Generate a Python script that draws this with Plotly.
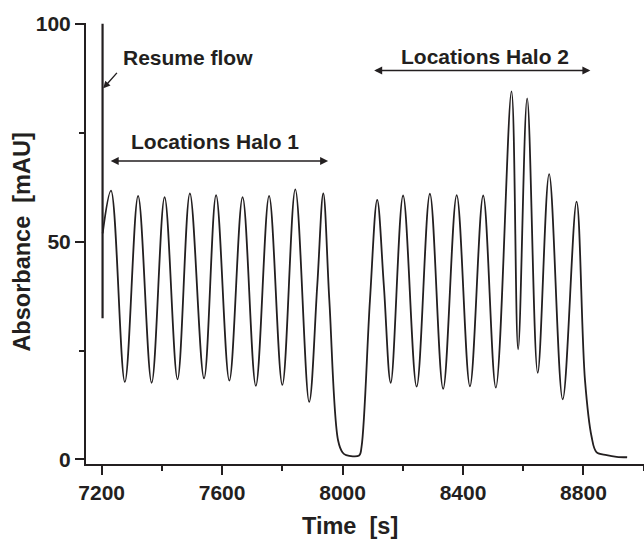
import plotly.graph_objects as go

# ---- data ----
spike_time = [7203.0, 7203.0]
spike_abs = [100.0, 32.4]

time_s = [7203.3, 7231, 7277, 7321, 7366, 7409, 7452, 7493, 7540, 7580, 7624, 7668,
          7712, 7756, 7800, 7843, 7889, 7916, 7936, 7956, 7985, 8000, 8012, 8055,
          8063, 8091, 8115, 8137, 8160, 8201, 8246, 8290, 8334, 8379, 8423, 8467,
          8509, 8561, 8583, 8613, 8648, 8686, 8731, 8777, 8805, 8827, 8843, 8877,
          8910, 8945]
absorbance_mau = [51.9, 61.7, 17.8, 60.5, 17.6, 60.2, 18.4, 61.1, 18.6, 60.7, 18.1, 60.2,
                  16.9, 60.5, 17.1, 62.0, 13.2, 40.0, 61.1, 36.6, 4.4, 1.6, 1.0, 0.9,
                  2.9, 36.6, 59.6, 40.0, 17.6, 60.6, 16.7, 61.0, 16.2, 60.7, 16.8, 60.6,
                  16.5, 84.5, 25.3, 82.9, 19.9, 65.5, 13.8, 59.2, 18.2, 5.2, 1.7, 1.0,
                  0.6, 0.5]

x_ticks = [7200, 7600, 8000, 8400, 8800]
y_ticks = [0, 50, 100]

INK = "#231f20"
FONT = "Liberation Sans"

fig = go.Figure()
fig.add_trace(go.Scatter(x=time_s, y=absorbance_mau, mode="lines",
                         line=dict(color=INK, width=1.8, shape="spline", smoothing=1.0),
                         hoverinfo="skip"))
fig.add_trace(go.Scatter(x=spike_time, y=spike_abs, mode="lines",
                         line=dict(color=INK, width=2.2), hoverinfo="skip"))

tickfont = dict(family=FONT, size=21, color=INK, weight="bold")

fig.update_xaxes(range=[7148, 9001], showline=True, linecolor=INK, linewidth=2,
                 ticks="outside", ticklen=9, tickwidth=2, tickcolor=INK,
                 tickvals=x_ticks, ticktext=[str(v) for v in x_ticks],
                 minor=dict(dtick=200, tick0=7200, ticks="outside", ticklen=5,
                            tickwidth=2, tickcolor=INK),
                 showgrid=False, zeroline=False, tickfont=tickfont)
fig.update_yaxes(range=[-1.05, 100.2], showline=True, linecolor=INK, linewidth=2,
                 ticks="outside", ticklen=9, tickwidth=2, tickcolor=INK,
                 tickvals=y_ticks, ticktext=[str(v) for v in y_ticks],
                 minor=dict(dtick=25, tick0=0, ticks="outside", ticklen=5,
                            tickwidth=2, tickcolor=INK),
                 showgrid=False, zeroline=False, tickfont=tickfont)

lab = dict(family=FONT, size=21, color=INK, weight="bold")
title_font = dict(family=FONT, size=23.5, color=INK, weight="bold")

annotations = [
    # axis titles
    dict(text="Time\u00a0\u00a0[s]", xref="paper", yref="paper", x=0.473, y=0,
         yshift=-62, xanchor="center", yanchor="middle", showarrow=False, font=title_font),
    dict(text="Absorbance\u00a0\u00a0[mAU]", xref="paper", yref="paper", x=0, y=0.502,
         xshift=-64, xanchor="center", yanchor="middle", textangle=-90,
         showarrow=False, font=title_font),
    # labels
    dict(text="Resume flow", x=7487, y=92.2, xref="x", yref="y", showarrow=False,
         xanchor="center", yanchor="middle", font=lab),
    dict(text="Locations Halo 1", x=7575, y=73.1, xref="x", yref="y", showarrow=False,
         xanchor="center", yanchor="middle", font=lab),
    dict(text="Locations Halo 2", x=8474, y=92.4, xref="x", yref="y", showarrow=False,
         xanchor="center", yanchor="middle", font=lab),
    # arrows
    dict(text="", x=7205.3, y=85.2, ax=7255, ay=89.1, xref="x", yref="y",
         axref="x", ayref="y", showarrow=True, arrowhead=2, arrowsize=1,
         arrowwidth=1.4, arrowcolor=INK, standoff=0),
    dict(text="", x=7952, y=68.5, ax=7225, ay=68.5, xref="x", yref="y",
         axref="x", ayref="y", showarrow=True, arrowhead=2, startarrowhead=2,
         arrowside="end+start", arrowsize=1, startarrowsize=1,
         arrowwidth=1.6, arrowcolor=INK, standoff=0, startstandoff=0),
    dict(text="", x=8823, y=89.3, ax=8100, ay=89.3, xref="x", yref="y",
         axref="x", ayref="y", showarrow=True, arrowhead=2, startarrowhead=2,
         arrowside="end+start", arrowsize=1, startarrowsize=1,
         arrowwidth=1.6, arrowcolor=INK, standoff=0, startstandoff=0),
]

fig.update_layout(width=644, height=540, margin=dict(l=86, r=0, t=23, b=76),
                  plot_bgcolor="white", paper_bgcolor="white", showlegend=False,
                  annotations=annotations)

fig.write_html("out.html")
